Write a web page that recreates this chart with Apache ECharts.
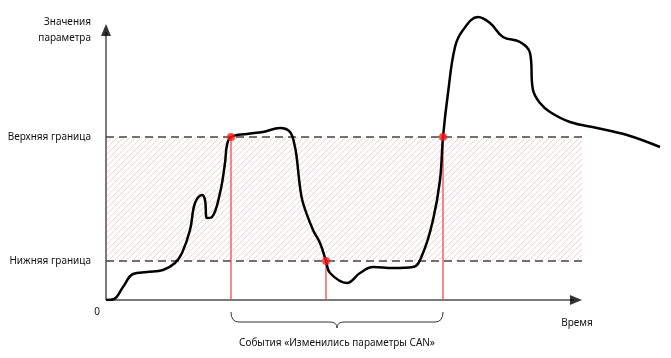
<!DOCTYPE html>
<html><head><meta charset="utf-8">
<script src="https://cdn.jsdelivr.net/npm/echarts@6/dist/echarts.min.js"></script>
<style>html,body{margin:0;padding:0;background:#fff}#c{width:671px;height:358px}</style>
</head><body><div id="c"></div>
<script>
// Time (x) and parameter value (y) samples of the curve
const timeValues = [0, 8, 17, 27, 41, 57, 69, 76, 84, 89, 96, 99, 101, 106, 114, 119, 121, 125, 141, 157, 174, 184, 189, 191, 194, 197, 207, 214, 220, 224, 241, 254, 267, 287, 307, 317, 327, 334, 337, 342, 349, 357, 372, 384, 397, 414, 424, 427, 434, 444, 464, 491, 521, 554];
const paramValues = [0, 1, 13, 26, 28, 30, 37, 47, 70, 97, 105, 100, 82, 83, 107, 137, 155, 163, 166, 168, 172, 168, 153, 140, 113, 97, 70, 57, 39, 27, 17, 27, 33, 32, 33, 47, 80, 120, 163, 207, 253, 270, 283, 277, 263, 258, 247, 210, 197, 188, 178, 172, 165, 153];
const upperBound = 163;
const lowerBound = 39;
const eventTimes = [125, 220, 337];
const eventValues = [163, 39, 163];
const axisTimeEnd = 476;
const axisValueEnd = 276;
const labels = {
  yName: 'Значения\nпараметра', upper: 'Верхняя граница', lower: 'Нижняя граница',
  zero: '0', xName: 'Время', events: 'События «Изменились параметры CAN»'
};

const chart = echarts.init(document.getElementById('c'), null, {renderer: 'canvas'});

const curve = timeValues.map((t, i) => [t, paramValues[i]]);
const font = 'Noto Sans';

function renderHatch(params, api) {
  const a = api.coord([api.value(0), api.value(1)]);
  const b = api.coord([api.value(2), api.value(3)]);
  const x = a[0], y = b[1], w = b[0] - a[0], h = a[1] - b[1];
  const step = 6;
  const children = [];
  for (let k = -h; k < w; k += step) {
    const t0 = Math.max(0, -k), t1 = Math.min(h, w - k);
    if (t1 <= t0) continue;
    children.push({
      type: 'line',
      shape: {x1: x + k + t0, y1: y + h - t0, x2: x + k + t1, y2: y + h - t1},
      style: {stroke: '#f5d0d0', lineWidth: 1}
    });
  }
  return {type: 'group', children};
}

const option = {
  animation: false,
  grid: {left: 106, right: 6, top: 10, bottom: 58},
  xAxis: {type: 'value', min: 0, max: 559, show: false},
  yAxis: {type: 'value', min: 0, max: 290, show: false},
  series: [
    { // hatched band
      type: 'custom', z: 1, silent: true,
      renderItem: renderHatch,
      data: [[0, lowerBound, axisTimeEnd, upperBound]]
    },
    { // bounds
      type: 'line', data: [], silent: true, z: 2,
      markLine: {
        silent: true, symbol: 'none',
        lineStyle: {color: '#444', width: 1.5, type: [8, 5]},
        label: {show: true, position: 'start', distance: 15, color: '#111', fontFamily: font, fontSize: 10},
        data: [
          [{coord: [0, upperBound], label: {formatter: labels.upper}}, {coord: [axisTimeEnd, upperBound]}],
          [{coord: [0, lowerBound], label: {formatter: labels.lower}}, {coord: [axisTimeEnd, lowerBound]}]
        ]
      }
    },
    { // event verticals
      type: 'line', data: [], silent: true, z: 2,
      markLine: {
        silent: true, symbol: 'none', label: {show: false},
        lineStyle: {color: 'rgba(240,70,70,0.85)', width: 1.5, type: 'solid'},
        data: eventTimes.map((t, i) => [{coord: [t, 0]}, {coord: [t, eventValues[i]]}])
      }
    },
    { // axes
      type: 'line', data: [[0, 0], [0, axisValueEnd - 8]], symbol: 'none', z: 3,
      lineStyle: {color: '#7a7a7a', width: 2}
    },
    {
      type: 'line', data: [[0, 0], [axisTimeEnd - 8, 0]], symbol: 'none', z: 3,
      lineStyle: {color: '#7a7a7a', width: 2}
    },
    { // arrowheads
      type: 'scatter', symbol: 'triangle', z: 4,
      itemStyle: {color: '#000'},
      data: [
        {value: [0, axisValueEnd - 6], symbolSize: [10, 12], symbolRotate: 0},
        {value: [axisTimeEnd - 6, 0], symbolSize: [10, 12], symbolRotate: -90}
      ]
    },
    { // curve
      type: 'line', data: curve, smooth: 0.4, symbol: 'none', z: 5,
      lineStyle: {color: '#000', width: 2.5}
    },
    { // event points
      type: 'scatter', z: 6, symbolSize: 8,
      itemStyle: {color: '#ff1a1a'},
      data: eventTimes.map((t, i) => [t, eventValues[i]])
    }
  ]
};
chart.setOption(option);

const p = (x, y) => chart.convertToPixel({gridIndex: 0}, [x, y]);
const x0 = p(eventTimes[0], 0)[0], x1 = p(eventTimes[2], 0)[0];
const xm = (x0 + x1) / 2;
const o = p(0, 0);
const yTop = o[1] + 12, yMid = o[1] + 22, yTip = o[1] + 28;
const bs = {fill: null, stroke: '#333', lineWidth: 1};
const txt = {fontFamily: font, fontSize: 10, fill: '#111'};
const yEnd = p(0, axisValueEnd);
const xEnd = p(axisTimeEnd, 0);
chart.setOption({
  graphic: [
    {type: 'bezierCurve', shape: {x1: x0, y1: yTop, cpx1: x0, cpy1: yMid, x2: x0 + 8, y2: yMid}, style: bs},
    {type: 'line', shape: {x1: x0 + 8, y1: yMid, x2: xm - 7, y2: yMid}, style: bs},
    {type: 'bezierCurve', shape: {x1: xm - 7, y1: yMid, cpx1: xm, cpy1: yMid, x2: xm, y2: yTip}, style: bs},
    {type: 'bezierCurve', shape: {x1: xm, y1: yTip, cpx1: xm, cpy1: yMid, x2: xm + 7, y2: yMid}, style: bs},
    {type: 'line', shape: {x1: xm + 7, y1: yMid, x2: x1 - 8, y2: yMid}, style: bs},
    {type: 'bezierCurve', shape: {x1: x1 - 8, y1: yMid, cpx1: x1, cpy1: yMid, x2: x1, y2: yTop}, style: bs},
    {type: 'text', x: xm, y: yTip + 15, style: Object.assign({text: labels.events, align: 'center', verticalAlign: 'middle'}, txt)},
    {type: 'text', x: o[0] - 9, y: o[1] + 12, style: Object.assign({text: labels.zero, align: 'center', verticalAlign: 'middle'}, txt)},
    {type: 'text', x: xEnd[0] - 5, y: o[1] + 23, style: Object.assign({text: labels.xName, align: 'center', verticalAlign: 'middle'}, txt)},
    {type: 'text', x: o[0] - 15, y: yEnd[1] - 10, style: Object.assign({text: labels.yName, align: 'right', verticalAlign: 'top', lineHeight: 16}, txt)}
  ]
});
</script></body></html>
